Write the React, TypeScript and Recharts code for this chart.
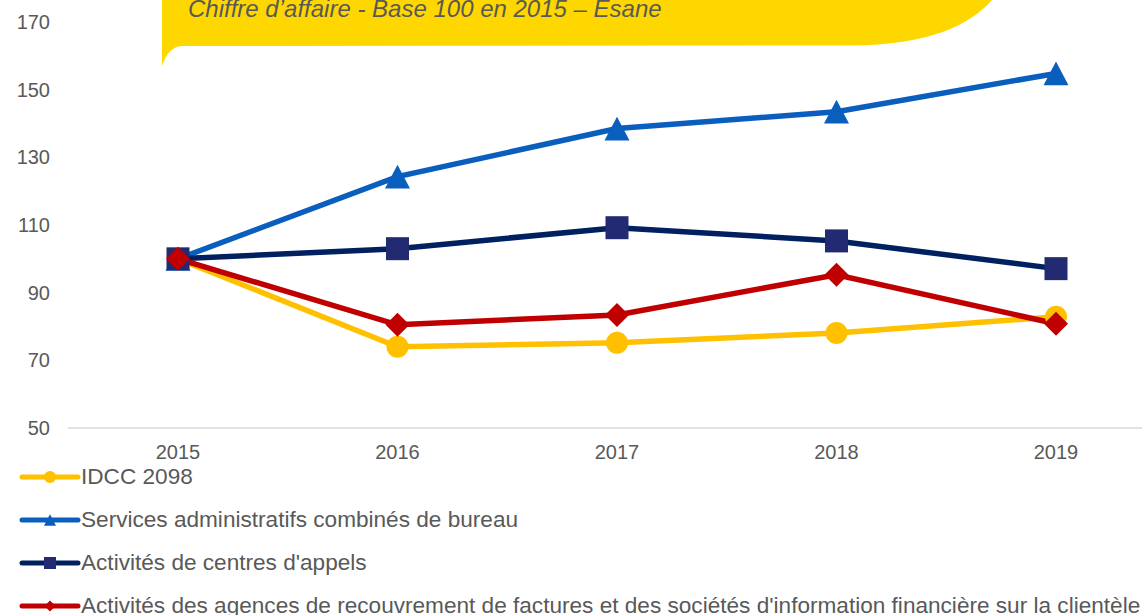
import React from 'react';
import { LineChart, Line, XAxis, YAxis, Legend } from 'recharts';

const years = ['2015', '2016', '2017', '2018', '2019'];
const idcc = [100, 74, 75.2, 78.1, 82.9];
const services = [100, 124.3, 138.5, 143.5, 154.8];
const centres = [100, 103, 109.2, 105.3, 97.1];
const agences = [100, 80.5, 83.4, 95.3, 80.8];
const yTicks = [50, 70, 90, 110, 130, 150, 170];

const title = 'Chiffre d’affaire - Base 100 en 2015 – Esane';

const seriesDefs = [
  { key: 'idcc', name: 'IDCC 2098', color: '#FFC000', marker: 'circle', markerColor: '#FFC000' },
  { key: 'services', name: 'Services administratifs combinés de bureau', color: '#0A5EBD', marker: 'triangle', markerColor: '#0A5EBD' },
  { key: 'centres', name: "Activités de centres d'appels", color: '#002060', marker: 'square', markerColor: '#222A72' },
  { key: 'agences', name: "Activités des agences de recouvrement de factures et des sociétés d'information financière sur la clientèle", color: '#C00000', marker: 'diamond', markerColor: '#C00000' },
];

const data = years.map((y, i) => ({
  year: y,
  idcc: idcc[i],
  services: services[i],
  centres: centres[i],
  agences: agences[i],
}));

function markerShape(kind: string, cx: number, cy: number, s: number, color: string, key?: string) {
  if (kind === 'circle') return <circle key={key} cx={cx} cy={cy} r={s / 2} fill={color} />;
  if (kind === 'square') return <rect key={key} x={cx - s / 2} y={cy - s / 2} width={s} height={s} fill={color} />;
  if (kind === 'triangle') {
    const h = s * 0.95;
    return <polygon key={key} points={`${cx},${cy - h / 2} ${cx + s / 2},${cy + h / 2} ${cx - s / 2},${cy + h / 2}`} fill={color} />;
  }
  return <polygon key={key} points={`${cx},${cy - s / 2} ${cx + s / 2},${cy} ${cx},${cy + s / 2} ${cx - s / 2},${cy}`} fill={color} />;
}

const dotSizes: Record<string, number> = { circle: 22, square: 23, triangle: 25, diamond: 24 };
const legendSizes: Record<string, number> = { circle: 12, square: 12, triangle: 12, diamond: 11 };

const makeDot = (kind: string, color: string) => (props: any) => {
  const { cx, cy, index } = props;
  if (cx == null || cy == null) return <g key={index} />;
  return markerShape(kind, cx, cy, dotSizes[kind], color, `d${index}`);
};

const renderLegend = () => (
  <div style={{ fontFamily: '"Liberation Sans", Arial, sans-serif', fontSize: 22.6, color: '#595959' }}>
    {seriesDefs.map((s) => (
      <div key={s.key} style={{ height: 43, display: 'flex', alignItems: 'center', whiteSpace: 'nowrap' }}>
        <svg width={81} height={20} style={{ flex: 'none' }}>
          <line x1={22} y1={10} x2={78} y2={10} stroke={s.color} strokeWidth={5} strokeLinecap="round" />
          {markerShape(s.marker, 50, 10, legendSizes[s.marker], s.markerColor)}
        </svg>
        <span>{s.name}</span>
      </div>
    ))}
  </div>
);

export default function App() {
  return (
    <div style={{ position: 'absolute', left: 0, top: 0, width: 1142, height: 615, overflow: 'hidden', background: '#fff' }}>
      <LineChart
        width={1166}
        height={615}
        data={data}
        margin={{ top: 22, right: 0, bottom: 157, left: 0 }}
      >
        <XAxis
          dataKey="year"
          axisLine={{ stroke: '#D9D9D9', strokeWidth: 1.5 }}
          tickLine={false}
          tick={{ fill: '#595959', fontSize: 20, fontFamily: '"Liberation Sans", Arial, sans-serif' }}
          tickMargin={11}
          interval={0}
          padding={{ left: 110, right: 110 }}
        />
        <YAxis
          domain={[50, 170]}
          ticks={yTicks}
          axisLine={false}
          tickLine={false}
          width={68}
          tickMargin={12}
          interval={0}
          tick={{ fill: '#595959', fontSize: 20, fontFamily: '"Liberation Sans", Arial, sans-serif' }}
        />
        <Legend
          layout="horizontal"
          verticalAlign="middle"
          align="center"
          wrapperStyle={{ position: 'absolute', left: 0, top: 455, width: 1166 }}
          content={renderLegend}
        />
        {seriesDefs.map((s) => (
          <Line
            key={s.key}
            dataKey={s.key}
            name={s.name}
            stroke={s.color}
            strokeWidth={5.5}
            type="linear"
            dot={makeDot(s.marker, s.markerColor)}
            activeDot={false}
            isAnimationActive={false}
          />
        ))}
      </LineChart>
      <svg width={1142} height={70} style={{ position: 'absolute', left: 0, top: 0 }}>
        <path d="M162,0 L992,0 C970,25 930,45 850,45.5 L183,46 C172,46 166,54 162,66 Z" fill="#FFD700" />
        <text x={188} y={17} fontSize={24} fontStyle="italic" fill="#595959" fontFamily='"Liberation Sans", Arial, sans-serif'>
          {title}
        </text>
      </svg>
    </div>
  );
}
